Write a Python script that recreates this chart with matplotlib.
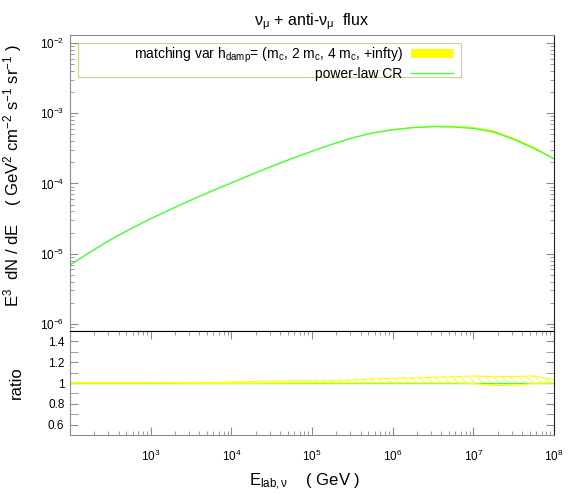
import matplotlib
matplotlib.use("Agg")
import matplotlib.pyplot as plt
import numpy as np
from matplotlib.patches import Patch, Rectangle
from matplotlib.lines import Line2D
from matplotlib.ticker import LogLocator, MultipleLocator, NullFormatter

plt.rcParams["font.family"] = ["Liberation Sans", "DejaVu Sans"]
plt.rcParams["mathtext.fontset"] = "custom"
plt.rcParams["mathtext.rm"] = "Liberation Sans"
plt.rcParams["mathtext.it"] = "Liberation Sans:italic"
plt.rcParams["mathtext.default"] = "regular"
plt.rcParams["hatch.linewidth"] = 0.6

# neutrino energy (GeV)
energy = [1.00e2, 1.78e2, 3.16e2, 5.62e2, 1.00e3, 1.78e3, 3.16e3, 5.62e3,
          1.00e4, 1.78e4, 3.16e4, 5.62e4, 1.00e5, 1.78e5, 3.16e5, 5.62e5,
          1.00e6, 1.78e6, 3.16e6, 5.62e6, 1.00e7, 1.78e7, 3.16e7, 5.62e7, 1.00e8]

# power-law CR flux, E^3 dN/dE
flux_pl = [6.92e-6, 1.06e-5, 1.585e-5, 2.265e-5, 3.16e-5, 4.315e-5, 5.82e-5, 7.76e-5,
           1.023e-4, 1.349e-4, 1.758e-4, 2.265e-4, 2.884e-4, 3.631e-4, 4.467e-4, 5.248e-4,
           5.821e-4, 6.237e-4, 6.457e-4, 6.383e-4, 6.095e-4, 5.433e-4, 4.266e-4, 3.162e-4, 2.244e-4]

# h_damp variation envelope, as ratio to the power-law curve
ratio_hi = [1.005, 1.005, 1.005, 1.005, 1.005, 1.005, 1.005, 1.006,
            1.008, 1.015, 1.020, 1.022, 1.022, 1.022, 1.028, 1.040,
            1.045, 1.048, 1.055, 1.060, 1.068, 1.060, 1.062, 1.068, 1.030]
ratio_lo = [0.998, 0.998, 0.998, 0.998, 0.998, 0.997, 0.996, 0.996,
            0.996, 0.997, 0.998, 0.999, 1.000, 1.000, 1.000, 1.000,
            1.000, 1.000, 1.000, 1.000, 0.995, 0.975, 0.978, 0.995, 1.000]

ytick_vals = [1e-6, 1e-5, 1e-4, 1e-3, 1e-2]
ytick_labels = ["$10^{-6}$", "$10^{-5}$", "$10^{-4}$", "$10^{-3}$", "$10^{-2}$"]
xtick_vals = [1e3, 1e4, 1e5, 1e6, 1e7, 1e8]
xtick_labels = ["$10^3$", "$10^4$", "$10^5$", "$10^6$", "$10^7$", "$10^8$"]
rtick_vals = [0.6, 0.8, 1.0, 1.2, 1.4]
rtick_labels = ["0.6", "0.8", "1", "1.2", "1.4"]

E = np.array(energy)
f_pl = np.array(flux_pl)
r_hi = np.array(ratio_hi)
r_lo = np.array(ratio_lo)

yellow = "#ffff00"
green = "#44ff44"
gray = "#8c8c8c"

fig = plt.figure(figsize=(5.81, 4.94), dpi=100)
ax1 = fig.add_axes([70 / 581, 1 - 331 / 494, 484 / 581, 296 / 494])
ax2 = fig.add_axes([70 / 581, 1 - 435 / 494, 484 / 581, 104 / 494])

# top panel
ax1.fill_between(E, f_pl * r_lo, f_pl * r_hi, color=yellow, lw=0)
ax1.plot(E, f_pl, color=green, lw=1)
ax1.set_xscale("log")
ax1.set_yscale("log")
ax1.set_xlim(1e2, 1e8)
ax1.set_ylim(10 ** -6.1, 10 ** -1.886)
ax1.set_yticks(ytick_vals)
ax1.set_yticklabels(ytick_labels)
ax1.yaxis.set_minor_locator(LogLocator(base=10, subs=np.arange(2, 10)))
ax1.yaxis.set_minor_formatter(NullFormatter())
ax1.tick_params(axis="x", which="both", bottom=False, labelbottom=False)
ax1.tick_params(axis="y", which="both", direction="in", left=True, right=True,
                color=gray, labelsize=8.5, pad=4)
ax1.tick_params(axis="y", which="major", length=6)
ax1.tick_params(axis="y", which="minor", length=3)
ax1.spines["top"].set_color(gray)
ax1.spines["left"].set_color(gray)
ax1.spines["right"].set_color("#202020")
ax1.spines["bottom"].set_color("black")
ax1.set_title("ν$_{\\mathrm{μ}}$ + anti-ν$_{\\mathrm{μ}}$  flux", fontsize=11.5, pad=7)
ax1.set_ylabel("E$^3$  dN / dE    ( GeV$^2$ cm$^{-2}$ s$^{-1}$ sr$^{-1}$ )", fontsize=12)
ax1.yaxis.set_label_coords(-0.095, 0.525)

# legend
ax1.add_patch(Rectangle((0.0165, 0.857), 0.7915, 0.115, transform=ax1.transAxes,
                        fill=False, edgecolor="#cfcf90", lw=0.8))
handles = [Patch(facecolor=yellow, edgecolor="none"),
           Line2D([], [], color=green, lw=1)]
labels = ["matching var h$_{\\mathrm{damp}}$= (m$_{\\mathrm{c}}$, 2 m$_{\\mathrm{c}}$, 4 m$_{\\mathrm{c}}$, +infty)",
          "power-law CR"]
ax1.legend(handles, labels, loc="upper right", bbox_to_anchor=(0.795, 0.972),
           frameon=False, markerfirst=False, fontsize=10, handlelength=3.0,
           handleheight=0.55, handletextpad=0.6, borderpad=0.15, borderaxespad=0,
           labelspacing=0.15)

# ratio panel
ax2.plot(E, f_pl / f_pl, color=green, lw=1)
ax2.fill_between(E, r_lo, r_hi, facecolor="none", edgecolor=yellow,
                 hatch="\\\\\\\\", lw=0)
ax2.plot(E, r_hi, color=yellow, lw=0.8)
ax2.plot(E, r_lo, color=yellow, lw=0.8)
ax2.set_xscale("log")
ax2.set_xlim(1e2, 1e8)
ax2.set_ylim(0.5, 1.5)
ax2.set_xticks(xtick_vals)
ax2.set_xticklabels(xtick_labels)
ax2.xaxis.set_minor_locator(LogLocator(base=10, subs=np.arange(2, 10)))
ax2.xaxis.set_minor_formatter(NullFormatter())
ax2.set_yticks(rtick_vals)
ax2.set_yticklabels(rtick_labels)
ax2.yaxis.set_minor_locator(MultipleLocator(0.1))
ax2.tick_params(axis="both", which="both", direction="in", top=True, right=True,
                color=gray, labelsize=8.5)
ax2.tick_params(axis="x", which="major", length=6, pad=10)
ax2.tick_params(axis="x", which="minor", length=3)
ax2.tick_params(axis="y", which="both", length=6, pad=4)
ax2.spines["top"].set_color("black")
ax2.spines["left"].set_color(gray)
ax2.spines["bottom"].set_color(gray)
ax2.spines["right"].set_color("#202020")
ax2.set_ylabel("ratio", fontsize=12)
ax2.yaxis.set_label_coords(-0.095, 0.5)
ax2.set_xlabel("E$_{\\mathrm{lab,ν}}$    ( GeV )", fontsize=12)
ax2.xaxis.set_label_coords(0.485, -0.355)

fig.savefig("out.png", dpi=100)
